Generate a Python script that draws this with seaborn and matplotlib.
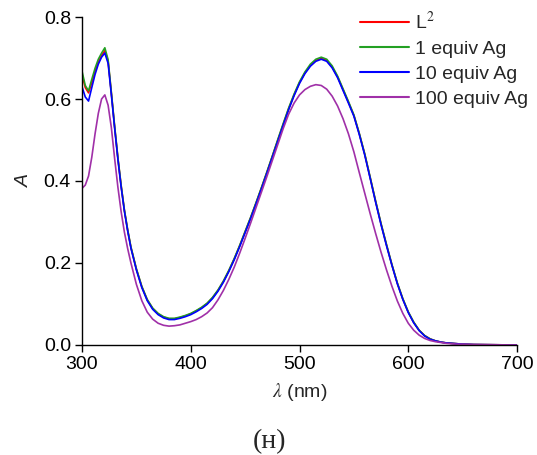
import matplotlib
matplotlib.use("Agg")
import matplotlib.pyplot as plt
import seaborn as sns
import pandas as pd

wavelength = [300, 303, 306, 309, 312, 315, 318, 321, 324, 327, 330, 333, 336, 339, 342, 345,
              350, 355, 360, 365, 370, 375, 380, 385, 390, 395, 400, 405, 410, 415, 420, 425,
              430, 435, 440, 445, 450, 455, 460, 465, 470, 475, 480, 485, 490, 495, 500, 505,
              510, 515, 520, 525, 530, 535, 540, 545, 550, 555, 560, 565, 570, 575, 580, 585,
              590, 595, 600, 605, 610, 615, 620, 625, 630, 635, 640, 645, 650, 660, 680, 700]

abs_L2 = [0.660, 0.628, 0.615, 0.640, 0.668, 0.690, 0.706, 0.718, 0.692, 0.614, 0.532, 0.456,
          0.388, 0.328, 0.280, 0.238, 0.185, 0.142, 0.110, 0.089, 0.076, 0.068, 0.064, 0.064,
          0.067, 0.071, 0.076, 0.083, 0.091, 0.101, 0.115, 0.133, 0.155, 0.181, 0.210, 0.242,
          0.276, 0.310, 0.346, 0.383, 0.421, 0.460, 0.499, 0.538, 0.576, 0.610, 0.640, 0.664,
          0.682, 0.694, 0.699, 0.694, 0.678, 0.654, 0.623, 0.592, 0.560, 0.515, 0.465, 0.408,
          0.350, 0.295, 0.244, 0.195, 0.150, 0.112, 0.080, 0.055, 0.036, 0.023, 0.015, 0.010,
          0.007, 0.005, 0.004, 0.003, 0.002, 0.001, 0.0005, 0.0]

abs_1eq = [0.668, 0.633, 0.620, 0.648, 0.675, 0.697, 0.712, 0.725, 0.696, 0.616, 0.534, 0.457,
           0.389, 0.329, 0.281, 0.239, 0.186, 0.143, 0.111, 0.090, 0.077, 0.069, 0.065, 0.065,
           0.068, 0.072, 0.077, 0.084, 0.092, 0.102, 0.116, 0.134, 0.156, 0.182, 0.211, 0.243,
           0.277, 0.311, 0.347, 0.384, 0.422, 0.461, 0.501, 0.540, 0.578, 0.612, 0.642, 0.666,
           0.685, 0.697, 0.702, 0.697, 0.681, 0.656, 0.625, 0.594, 0.561, 0.516, 0.466, 0.409,
           0.351, 0.296, 0.245, 0.196, 0.151, 0.113, 0.081, 0.056, 0.036, 0.023, 0.015, 0.010,
           0.007, 0.005, 0.004, 0.003, 0.002, 0.001, 0.0005, 0.0]

abs_10eq = [0.630, 0.605, 0.595, 0.628, 0.660, 0.685, 0.702, 0.712, 0.687, 0.610, 0.529, 0.453,
            0.385, 0.326, 0.278, 0.236, 0.183, 0.140, 0.108, 0.087, 0.074, 0.066, 0.062, 0.062,
            0.065, 0.069, 0.074, 0.081, 0.089, 0.099, 0.113, 0.131, 0.153, 0.179, 0.208, 0.240,
            0.274, 0.308, 0.344, 0.381, 0.419, 0.458, 0.497, 0.536, 0.574, 0.608, 0.638, 0.662,
            0.680, 0.692, 0.697, 0.692, 0.676, 0.652, 0.621, 0.590, 0.558, 0.513, 0.463, 0.406,
            0.348, 0.293, 0.242, 0.194, 0.149, 0.111, 0.079, 0.054, 0.035, 0.022, 0.014, 0.010,
            0.007, 0.005, 0.004, 0.003, 0.002, 0.001, 0.0005, 0.0]

abs_100eq = [0.382, 0.390, 0.412, 0.458, 0.515, 0.565, 0.600, 0.610, 0.585, 0.530, 0.455, 0.385,
             0.325, 0.275, 0.235, 0.200, 0.148, 0.108, 0.080, 0.063, 0.053, 0.048, 0.046, 0.047,
             0.049, 0.053, 0.057, 0.062, 0.069, 0.078, 0.091, 0.110, 0.133, 0.160, 0.190, 0.224,
             0.260, 0.297, 0.335, 0.373, 0.411, 0.450, 0.489, 0.528, 0.563, 0.590, 0.610, 0.623,
             0.631, 0.635, 0.633, 0.624, 0.607, 0.583, 0.552, 0.515, 0.471, 0.420, 0.370, 0.320,
             0.272, 0.226, 0.183, 0.143, 0.107, 0.077, 0.053, 0.036, 0.024, 0.016, 0.011, 0.008,
             0.006, 0.004, 0.003, 0.002, 0.002, 0.001, 0.0005, 0.0]

series_labels = ["L$^2$", "1 equiv Ag", "10 equiv Ag", "100 equiv Ag"]
series_values = [abs_L2, abs_1eq, abs_10eq, abs_100eq]
series_colors = ["#ff0000", "#23a023", "#0000ff", "#a030a8"]

x_ticks = [300, 400, 500, 600, 700]
y_ticks = [0.0, 0.2, 0.4, 0.6, 0.8]

rows = []
for lab, vals in zip(series_labels, series_values):
    for w, a in zip(wavelength, vals):
        rows.append({"wavelength": w, "A": a, "series": lab})
df = pd.DataFrame(rows)

sns.set_theme(style="ticks")
plt.rcParams["font.family"] = ["Liberation Sans", "DejaVu Sans"]
plt.rcParams["mathtext.fontset"] = "stix"

fig = plt.figure(figsize=(5.37, 4.55), dpi=100)
ax = fig.add_axes([0.1527, 0.2418, 0.8101, 0.7208])

sns.lineplot(data=df, x="wavelength", y="A", hue="series", hue_order=series_labels,
             palette=dict(zip(series_labels, series_colors)), estimator=None, sort=False,
             linewidth=1.2, ax=ax, legend=False)

ax.set_xlim(300, 700)
ax.set_ylim(0, 0.8)
ax.set_xticks(x_ticks)
ax.set_xticklabels([str(t) for t in x_ticks])
ax.set_yticks(y_ticks)
ax.set_yticklabels([f"{t:.1f}" for t in y_ticks])
ax.tick_params(axis="both", direction="out", length=5, width=1, labelsize=14, colors="black", pad=3)
for s in ["top", "right"]:
    ax.spines[s].set_visible(False)
for s in ["left", "bottom"]:
    ax.spines[s].set_linewidth(1.0)
    ax.spines[s].set_color("black")

ax.set_xlabel(r"$\lambda$ (nm)", fontsize=14, labelpad=6)
ax.set_ylabel("A", fontsize=14, fontstyle="italic", labelpad=8)

leg = ax.legend(handles=ax.lines[:4], labels=series_labels, loc="upper left",
                bbox_to_anchor=(360 / 537, 1 - 11 / 455), bbox_transform=fig.transFigure,
                frameon=False, fontsize=14, handlelength=2.5, handletextpad=0.35,
                labelspacing=0.38, borderaxespad=0, borderpad=0)
for line in leg.get_lines():
    line.set_linewidth(1.5)

fig.text(270 / 537, 1 - 442 / 455, "(н)", ha="center", va="center", fontsize=20,
         family=["Liberation Serif", "DejaVu Serif"])

fig.savefig("out.png", dpi=100)
